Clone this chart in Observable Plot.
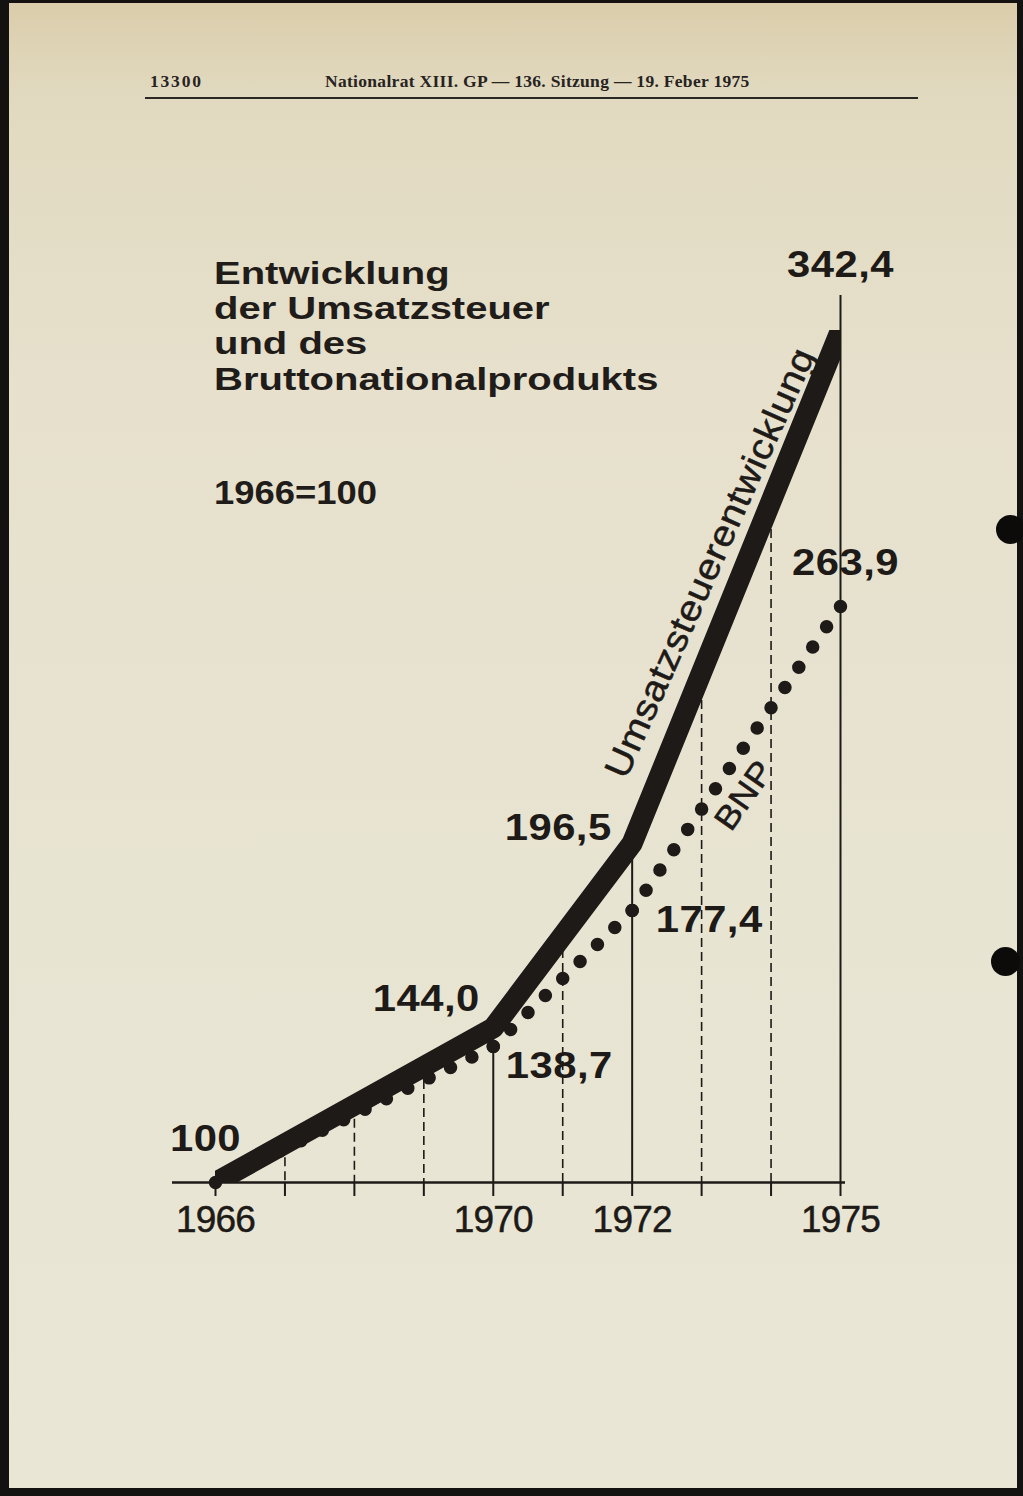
<!DOCTYPE html>
<html>
<head>
<meta charset="utf-8">
<script src="https://cdn.jsdelivr.net/npm/d3@7"></script>
<script src="https://cdn.jsdelivr.net/npm/@observablehq/plot@0.6"></script>
<style>
  html, body { margin: 0; padding: 0; background: #141210; }
  #page { position: relative; width: 1023px; height: 1496px; overflow: hidden; background: #141210; }
  #paper { position: absolute; left: 9px; top: 3px; width: 1008px; height: 1485px;
    background: linear-gradient(to bottom, #dacdab 0%, #e1d9bf 6%, #e6e0cc 25%, #e8e4d2 60%, #eae6d6 100%); }
  .hole { position: absolute; width: 29px; height: 29px; border-radius: 50%; background: #0c0b0a; }
  .hdr { position: absolute; font-family: "Liberation Serif", "DejaVu Serif", serif; font-weight: bold;
    font-size: 17.5px; line-height: 1; color: #27231f; white-space: nowrap; letter-spacing: 0.3px; }
  #hdr-rule { position: absolute; left: 145px; top: 97px; width: 773px; height: 1.6px; background: #2b2723; }
  .ttl { position: absolute; left: 214px; font-family: "Liberation Sans", Arial, sans-serif; font-weight: bold;
    font-size: 32px; line-height: 1; color: #1f1c19; white-space: nowrap; transform-origin: 0 0; transform: scaleX(1.25); }
  #chart { position: absolute; left: 0; top: 0; }
  text[aria-label="value-label"] { letter-spacing: 0.4px; }
  text[aria-label="series-label"] { letter-spacing: 0.6px; stroke: #1d1a17; stroke-width: 0.5px; }
  g[aria-label="x-axis tick label"] { letter-spacing: -0.8px; stroke: #1d1a17; stroke-width: 0.5px; }
</style>
</head>
<body>
<div id="page">
  <div id="paper"></div>
  <div class="hole" style="left:996px; top:515px;"></div>
  <div class="hole" style="left:991px; top:947px;"></div>
  <div class="hdr" style="left:150px; top:72.5px; letter-spacing: 1.8px;">13300</div>
  <div class="hdr" style="left:325px; top:72.5px;">Nationalrat XIII. GP — 136. Sitzung — 19. Feber 1975</div>
  <div id="hdr-rule"></div>
  <div class="ttl" style="top:256.9px;">Entwicklung</div>
  <div class="ttl" style="top:292.1px;">der Umsatzsteuer</div>
  <div class="ttl" style="top:327.3px;">und des</div>
  <div class="ttl" style="top:362.5px;">Bruttonationalprodukts</div>
  <div class="ttl" style="top:475px; font-size:34px; transform: scaleX(1.07);">1966=100</div>
  <div id="chart"></div>
</div>
<script>
// ---- data ----
const years = [1966, 1970, 1972, 1975];
const umsatz = [100, 144.0, 196.5, 342.4];        // Umsatzsteuerentwicklung (1966 = 100)
const bnp = [100, 138.7, 177.4, 263.9];           // BNP (1966 = 100)
const tickYears = [1966, 1967, 1968, 1969, 1970, 1971, 1972, 1973, 1974, 1975];
const labeledYears = [1966, 1970, 1972, 1975];
const guideYears = [1967, 1968, 1969, 1971, 1973, 1974];
const solidYears = [1970, 1972, 1975];
const umsatzName = "Umsatzsteuerentwicklung";
const bnpName = "BNP";

// ---- styling ----
const ink = "#1d1a17";
const fmt = v => v === 100 ? "100" : v.toFixed(1).replace(".", ",");
const umsatzAt = d3.scaleLinear(years, umsatz);

const umsatzData = years.map((x, i) => ({x, y: umsatz[i]}));
const bnpLinks = years.slice(1).map((x, i) => ({x1: years[i], y1: bnp[i], x2: x, y2: bnp[i + 1]}));

// label offsets (pixels) for each value label
const uOff = [[-10, -43], [-67, -29], [-74, -15], [0, -65]];
const bOff = [null, [66, 20], [77, 10], [5, -43]];

const valueLabel = (x, y, v, off) => Plot.text([{x, y}], {
  x: "x", y: "y", text: () => fmt(v), dx: off[0], dy: off[1],
  fontSize: 37, fontWeight: "bold", fill: ink, textAnchor: "middle", lineAnchor: "middle",
  ariaLabel: () => "value-label"
});

const labelMarks = [];
years.forEach((x, i) => {
  labelMarks.push(valueLabel(x, umsatz[i], umsatz[i], uOff[i]));
  if (bOff[i]) labelMarks.push(valueLabel(x, bnp[i], bnp[i], bOff[i]));
});

const mid = (a, i) => (a[i] + a[i + 1]) / 2;

const chart = Plot.plot({
  width: 1023,
  height: 1496,
  marginLeft: 215,
  marginRight: 183,
  marginTop: 330,
  marginBottom: 314,
  x: {domain: [1966, 1975], axis: null},
  y: {domain: [100, 342.4], axis: null},
  style: {background: "transparent", fontFamily: "'Liberation Sans', Arial, sans-serif", color: ink, overflow: "visible"},
  marks: [
    Plot.ruleX(guideYears, {x: d => d, y1: d => umsatzAt(d), y2: 100, stroke: ink, strokeWidth: 1.6, strokeDasharray: "9,5"}),
    Plot.ruleX(solidYears.filter(d => d !== 1975), {x: d => d, y1: d => umsatzAt(d), y2: 100, stroke: ink, strokeWidth: 2}),
    Plot.ruleX(solidYears.filter(d => d === 1975), {x: d => d, y1: d => umsatzAt(d), y2: 100, insetTop: -35, stroke: ink, strokeWidth: 2}),
    Plot.ruleY([100], {stroke: ink, strokeWidth: 2.5, insetLeft: -43, insetRight: -5}),
    Plot.axisX({
      ticks: tickYears, tickSize: 14, tickPadding: 9, label: null,
      tickFormat: d => labeledYears.includes(d) ? String(d) : "",
      fontSize: 37, stroke: ink, fill: ink, strokeWidth: 2
    }),
    Plot.link(bnpLinks, {x1: "x1", y1: "y1", x2: "x2", y2: "y2", stroke: ink, strokeWidth: 13.5,
      strokeLinecap: "round", strokeDasharray: "0,24.6", ariaLabel: () => "bnp-dots"}),
    Plot.line(umsatzData, {x: "x", y: "y", stroke: ink, strokeWidth: 21, strokeLinejoin: "round", clip: true}),
    Plot.text([{x: mid(years, 2), y: mid(umsatz, 2)}], {
      x: "x", y: "y", text: () => umsatzName, rotate: -66, dx: -26, dy: -24,
      fontSize: 36, fill: ink, textAnchor: "middle", lineAnchor: "middle", ariaLabel: () => "series-label"
    }),
    Plot.text([{x: mid(years, 2), y: mid(bnp, 2)}], {
      x: "x", y: "y", text: () => bnpName, rotate: -55, dx: 8, dy: 37,
      fontSize: 33, fill: ink, textAnchor: "middle", lineAnchor: "middle", ariaLabel: () => "series-label"
    }),
    ...labelMarks
  ]
});

document.getElementById("chart").appendChild(chart);

// fit a whole number of dots on each BNP segment so a dot sits on every data point
d3.select(chart).selectAll('path[aria-label="bnp-dots"]').each(function () {
  const L = this.getTotalLength();
  const n = Math.max(1, Math.round(L / 24.6));
  this.setAttribute("stroke-dasharray", `0 ${L / n - 0.002}`);
});

// the original lettering is a wide grotesque: stretch labels horizontally about their anchor
function widen(sel, s) {
  d3.select(chart).selectAll(sel).each(function () {
    const t = this.getAttribute("transform") || "";
    this.setAttribute("transform", `${t} scale(${s},1)`);
  });
}
widen('text[aria-label="value-label"]', 1.13);
widen('text[aria-label="series-label"]', 1.1);
</script>
</body>
</html>
